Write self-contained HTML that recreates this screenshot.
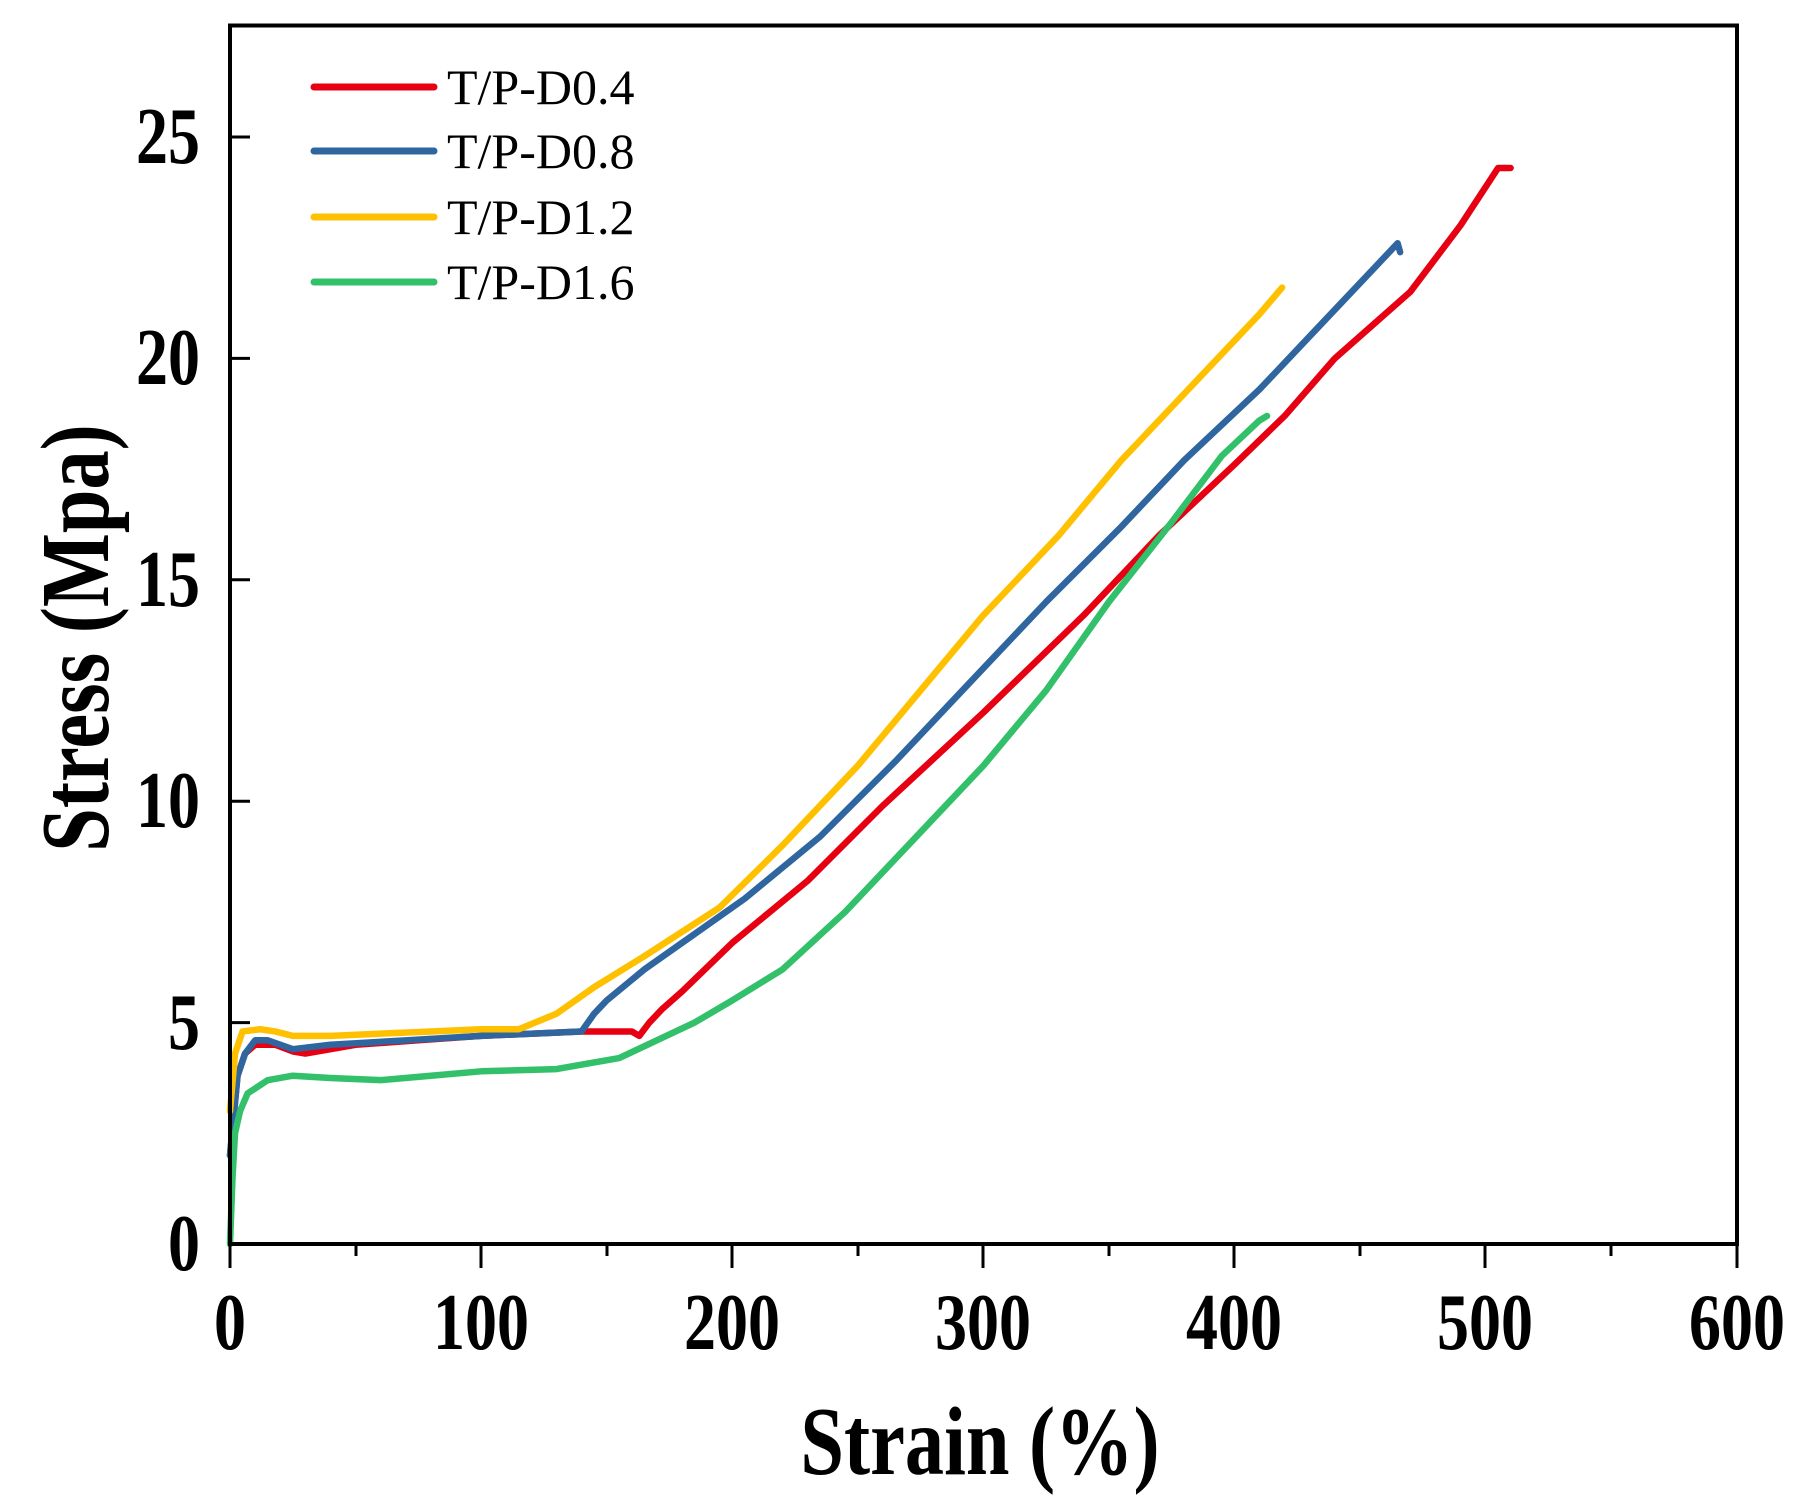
<!DOCTYPE html>
<html><head><meta charset="utf-8"><style>
html,body{margin:0;padding:0;background:#fff;}
svg{display:block;}
text{font-family:"Liberation Serif",serif;}
</style></head><body>
<svg width="1809" height="1503" viewBox="0 0 1809 1503" xmlns="http://www.w3.org/2000/svg">
<rect width="1809" height="1503" fill="#fff"/>
<g transform="translate(230,1244) scale(2.511,-44.28)" fill="none" stroke-width="6.5" stroke-linejoin="round" stroke-linecap="round">
<polyline vector-effect="non-scaling-stroke" stroke="#e60012" points="0,2 3,3.8 6,4.3 10,4.5 18,4.5 25,4.35 30,4.3 40,4.4 50,4.5 75,4.6 100,4.7 140,4.8 160,4.8 163,4.7 167,5 172,5.3 180,5.7 200,6.8 230,8.2 260,9.9 300,12 340,14.2 370,16 400,17.6 420,18.7 440,20 470,21.5 490,23 505,24.3 510,24.3"/>
<polyline vector-effect="non-scaling-stroke" stroke="#2f66a0" points="0,2 3,3.8 6,4.3 10,4.6 15,4.6 25,4.4 40,4.5 70,4.6 100,4.7 140,4.8 145,5.2 150,5.5 165,6.2 185,7 205,7.8 235,9.2 265,10.9 295,12.7 325,14.5 355,16.2 380,17.7 410,19.3 430,20.5 455,22 465,22.6 466,22.4"/>
<polyline vector-effect="non-scaling-stroke" stroke="#ffc000" points="0,3 2,4.3 5,4.8 12,4.85 18,4.8 25,4.7 40,4.7 80,4.8 100,4.85 115,4.85 130,5.2 145,5.8 165,6.5 195,7.6 220,9 250,10.8 275,12.5 300,14.2 330,16 355,17.7 385,19.5 410,21 419,21.6"/>
<polyline vector-effect="non-scaling-stroke" stroke="#33c06a" points="0,0 1,1.5 2,2.5 4,3 7,3.4 15,3.7 25,3.8 40,3.75 60,3.7 80,3.8 100,3.9 130,3.95 145,4.1 155,4.2 170,4.6 185,5 200,5.5 220,6.2 245,7.5 270,9 300,10.8 325,12.5 350,14.5 375,16.3 395,17.8 410,18.6 413,18.7"/>
</g>
<rect x="230" y="25.5" width="1507" height="1218.5" fill="none" stroke="#000" stroke-width="4"/>
<g stroke="#000" stroke-width="3">
<line x1="230" y1="1244" x2="230" y2="1268"/><line x1="481" y1="1244" x2="481" y2="1268"/><line x1="732" y1="1244" x2="732" y2="1268"/><line x1="983" y1="1244" x2="983" y2="1268"/><line x1="1234" y1="1244" x2="1234" y2="1268"/><line x1="1485" y1="1244" x2="1485" y2="1268"/><line x1="1737" y1="1244" x2="1737" y2="1268"/>
<line x1="356" y1="1244" x2="356" y2="1256"/><line x1="607" y1="1244" x2="607" y2="1256"/><line x1="858" y1="1244" x2="858" y2="1256"/><line x1="1109" y1="1244" x2="1109" y2="1256"/><line x1="1360" y1="1244" x2="1360" y2="1256"/><line x1="1611" y1="1244" x2="1611" y2="1256"/>
<line x1="230" y1="1022.6" x2="250" y2="1022.6"/><line x1="230" y1="801.2" x2="250" y2="801.2"/><line x1="230" y1="579.8" x2="250" y2="579.8"/><line x1="230" y1="358.4" x2="250" y2="358.4"/><line x1="230" y1="137" x2="250" y2="137"/>
</g>
<g font-size="80" font-weight="bold" text-anchor="end" fill="#000">
<text transform="translate(200,1270) scale(0.8,1)">0</text>
<text transform="translate(200,1049) scale(0.8,1)">5</text>
<text transform="translate(200,827) scale(0.8,1)">10</text>
<text transform="translate(200,606) scale(0.8,1)">15</text>
<text transform="translate(200,384) scale(0.8,1)">20</text>
<text transform="translate(200,163) scale(0.8,1)">25</text>
</g>
<g font-size="80" font-weight="bold" text-anchor="middle" fill="#000">
<text transform="translate(230,1349) scale(0.8,1)">0</text>
<text transform="translate(481,1349) scale(0.8,1)">100</text>
<text transform="translate(732,1349) scale(0.8,1)">200</text>
<text transform="translate(983,1349) scale(0.8,1)">300</text>
<text transform="translate(1234,1349) scale(0.8,1)">400</text>
<text transform="translate(1485,1349) scale(0.8,1)">500</text>
<text transform="translate(1737,1349) scale(0.8,1)">600</text>
</g>
<text transform="translate(980,1474) scale(0.8,1)" font-size="98" font-weight="bold" text-anchor="middle">Strain (%)</text>
<text transform="translate(108,638) rotate(-90) scale(0.8,1)" font-size="98" font-weight="bold" text-anchor="middle">Stress (Mpa)</text>
<g stroke-width="7" stroke-linecap="round">
<line x1="314" y1="87" x2="434" y2="87" stroke="#e60012"/>
<line x1="314" y1="151" x2="434" y2="151" stroke="#2f66a0"/>
<line x1="314" y1="217" x2="434" y2="217" stroke="#ffc000"/>
<line x1="314" y1="282" x2="434" y2="282" stroke="#33c06a"/>
</g>
<g font-size="50" fill="#000">
<text x="447" y="104">T/P-D0.4</text><text x="447" y="168">T/P-D0.8</text><text x="447" y="234">T/P-D1.2</text><text x="447" y="299">T/P-D1.6</text>
</g>
</svg>
</body></html>
